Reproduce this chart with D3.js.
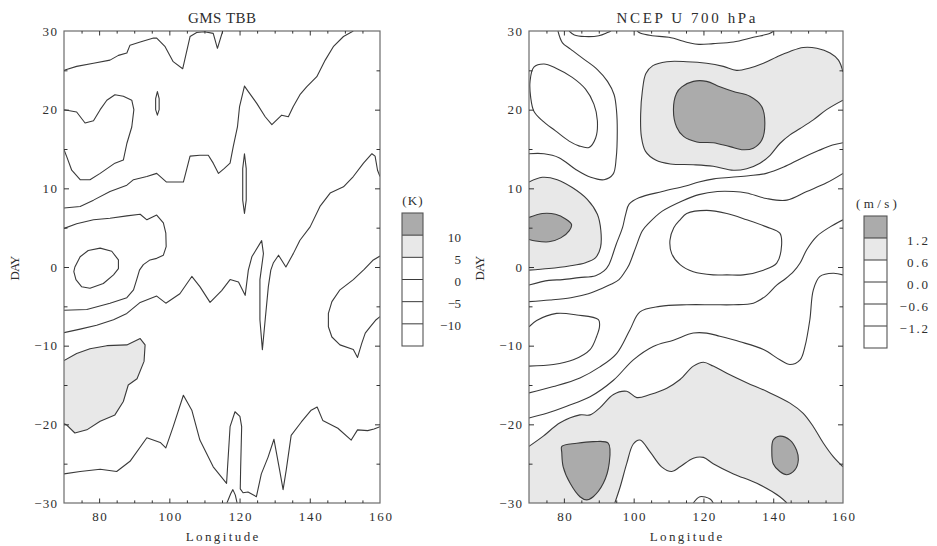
<!DOCTYPE html>
<html>
<head>
<meta charset="utf-8">
<script src="https://cdn.jsdelivr.net/npm/d3@7/dist/d3.min.js"></script>
<style>
  body { margin: 0; background: #fff; }
  svg text { font-family: "Liberation Serif", "DejaVu Serif", serif; fill: #2e2e2e; }
</style>
</head>
<body>
<svg id="chart" width="937" height="546"></svg>
<script>
// ---- axes ----
const lonDomain = [70, 160];
const dayDomain = [-30, 30];
const lonLabels = [80, 100, 120, 140, 160];
const lonMajor = [80, 100, 120, 140];
const lonMinor = [75, 85, 90, 95, 105, 110, 115, 125, 130, 135, 145, 150, 155];
const dayLabels = [-30, -20, -10, 0, 10, 20, 30];
const dayMajor = [-20, -10, 0, 10, 20];
const dayMinor = [-25, -15, -5, 5, 15, 25];

// ---- key (legend) levels ----
const tbbKeyLabels = ["10", "5", "0", "\u22125", "\u221210"];
const uKeyLabels = ["1.2", "0.6", "0.0", "\u22120.6", "\u22121.2"];

// ---- GMS TBB contours, [longitude, day] ----
const tbbA = [[70,25.0],[73.6,25.5],[78.4,25.9],[83.1,26.3],[85.5,26.9],[87.9,27.2],[88.8,28.2],[91.7,28.6],[95.5,29.1],[96.4,29.1],[98.8,28.0],[101.1,26.1],[103.8,25.2],[105.9,29.3],[107.8,29.8],[110,29.9],[112.5,29.7],[113.7,27.8],[115.2,30]];
const tbbB = [[152.4,30],[149.6,29.3],[146.7,28.0],[144.4,26.3],[142.0,24.2],[139.1,22.9],[137.2,21.9],[135.3,20.4],[133.9,19.1],[132.0,19.3],[129.2,18.1],[127.3,19.1],[124.9,20.8],[122.5,22.3],[121.4,23.0],[120.0,20.4],[119.4,17.8],[118.2,15.3],[117.3,13.2],[115.6,12.5],[114.0,11.9],[112.5,13.2],[111.1,14.2],[108.7,14.2],[105.9,14.1],[104.0,10.8],[99.2,10.8],[96.4,11.9],[93.6,11.5],[89.8,11.1],[87.9,10.4],[83.1,9.6],[78.4,8.5],[74.6,7.7],[70,7.5]];
const tbbC = [[70,20.0],[73.6,19.7],[76.0,18.3],[78.4,18.6],[80.3,20.0],[82.2,21.2],[84.5,21.9],[86.9,21.7],[89.3,21.2],[89.9,20.0],[89.3,17.8],[87.9,15.7],[86.9,13.6],[84.5,13.2],[80.3,11.9],[77.4,11.1],[74.6,11.1],[72.2,12.3],[70.8,14.0],[70,14.9]];
const tbbSpot1 = [[96.6,22.3],[97.1,21.4],[97.1,20.0],[96.6,19.3],[96.1,20.0],[96.1,21.4]];
const tbbSpot2 = [[121.4,14.4],[121.9,12.5],[121.9,8.5],[121.4,6.8],[120.9,8.5],[120.9,12.5]];
const tbbD = [[70,4.9],[73.6,5.5],[78.4,6.0],[83.1,6.2],[87.9,6.5],[91.7,6.7],[93.6,6.0],[96.4,6.6],[98.3,5.6],[99.0,4.3],[99.1,2.6],[98.3,1.5],[96.4,1.1],[94.5,0.9],[92.6,0.3],[91.5,-0.4],[90.7,-1.6],[89.8,-2.9],[87.9,-3.9],[83.1,-4.6],[76.5,-5.4],[70,-5.5]];
const tbbOval = [[73.1,0.0],[74.6,1.3],[76.9,2.1],[80.3,2.4],[83.6,2.0],[85.5,0.9],[85.5,-0.2],[84.1,-1.0],[81.2,-2.1],[77.4,-2.7],[75.0,-2.5],[73.4,-1.6],[72.8,-0.6]];
const tbbE = [[70,-8.35],[74.6,-7.9],[79.3,-7.4],[84.1,-6.7],[87.9,-5.9],[91.7,-4.5],[96.4,-3.7],[99.0,-4.6],[103.0,-3.4],[106.4,-1.2],[108.7,-2.5],[111.6,-4.5],[114.9,-3.0],[117.3,-1.6],[119.7,-1.9],[121.6,-3.6],[122.5,-0.4],[123.5,1.3],[126.3,3.35],[126.8,1.7],[125.8,-1.6],[125.8,-6.7],[126.5,-10.5],[127.3,-6.7],[128.2,-2.5],[128.9,-0.4],[129.6,0.5],[131.1,1.5],[133.2,0.0],[135.3,1.7],[137.2,3.4],[140.1,5.1],[142.9,7.7],[145.8,9.4],[149.6,10.2],[152.4,11.5],[155.3,13.2],[157.7,14.4],[158.6,14.1],[159.3,12.3],[160,11.5]];
const tbbF = [[160,1.4],[158.1,0.9],[155.5,-0.3],[152.4,-1.6],[148.6,-2.9],[146.3,-4.4],[145.3,-5.9],[145.3,-7.6],[146.3,-8.9],[148.6,-9.9],[152.4,-10.5],[153.6,-11.5],[154.8,-9.7],[155.8,-8.4],[157.2,-7.6],[158.9,-6.7],[160,-6.3]];
const tbbWarm = [[70,-11.9],[73.6,-11.0],[77.4,-10.4],[82.2,-10.0],[87.9,-9.9],[91.7,-9.1],[93.1,-9.9],[92.8,-12.0],[90.8,-14.2],[88.3,-15.0],[86.9,-17.1],[84.5,-18.8],[80.3,-19.6],[76.5,-20.7],[73.1,-21.1],[70.8,-20.1],[70,-19.9]];
const tbbH = [[70,-26.3],[74.6,-26.0],[80.3,-25.7],[85.0,-26.0],[88.8,-24.7],[93.6,-21.7],[97.4,-22.3],[99.0,-23.0],[101.1,-20.3],[104.0,-16.3],[106.4,-18.2],[108.7,-22.0],[112.5,-25.4],[116.3,-27.5],[117.3,-20.3],[118.7,-18.4],[120.1,-19.0],[120.6,-20.3],[120.3,-25.8],[120.2,-28.2],[121.0,-28.7],[122.4,-28.6],[124.8,-29.2],[126.2,-26.3],[128.1,-24.2],[129.8,-21.9],[131.4,-25.8],[132.4,-28.3],[133.3,-25.8],[134.7,-21.4],[137.6,-19.7],[140.4,-18.2],[142.1,-17.8],[143.7,-19.5],[148.0,-20.5],[151.8,-22.0],[153.6,-20.7],[156.5,-20.8],[158.3,-20.6],[160,-20.3]];
const tbbNotch = [[116.4,-30],[117.5,-28.8],[118.1,-28.3],[118.8,-29.0],[119.3,-30]];

// ---- NCEP U 700 hPa contours, [longitude, day] ----
const uArcNW = [[78.3,30],[79.6,28.5],[81.9,27.7],[85.8,26.4],[89.6,25.1],[92.5,23.6],[94.4,21.9],[95.1,19.8],[95.3,17.3],[95.0,13.9],[94.1,11.8],[91.5,11.1],[87.7,11.4],[83.4,12.4],[78.6,13.9],[74.3,14.4],[70,14.4]];
const uLowNW = [[71.4,25.4],[74.3,25.8],[77.6,25.3],[82.4,24.1],[86.2,22.6],[88.6,20.7],[89.6,18.6],[89.1,16.4],[87.2,15.2],[84.3,15.4],[81.5,16.0],[77.6,17.3],[73.8,18.6],[71.4,19.8],[70.5,21.5],[70.3,23.6]];
const uTopA = [[81.5,30],[83,29.5],[86,29.3],[90,29.4],[92.5,29.8],[93.5,30]];
const uTopB = [[101,30],[102,29.7],[105.3,29.4],[110.1,29.2],[115.9,28.5],[118.7,28.3],[122.8,28.4],[128.6,28.6],[134.3,29.2],[139.1,29.7],[140,30]];
const uHighN = [[160,24.8],[158.7,26.3],[156.3,27.2],[152.5,27.8],[148.6,27.9],[144.8,27.4],[141.0,26.7],[137.2,25.9],[133.3,25.3],[129.5,25.0],[125.7,25.5],[120.9,25.9],[115.2,26.1],[109.5,26.1],[105.5,25.6],[103.5,24.6],[102.5,22.4],[102.0,19.4],[102.2,16.6],[103.4,14.7],[106.3,13.6],[110.5,13.1],[117.1,13.0],[122.8,12.8],[128.6,12.3],[132.4,12.5],[136.2,13.2],[139.1,14.2],[141.9,15.7],[144.8,16.8],[147.7,17.6],[151.5,18.7],[155.3,20.0],[160,21.2]];
const uPeakN = [[112.3,22.1],[113.8,22.9],[117.1,23.6],[120.9,23.6],[124.7,22.9],[128.6,22.3],[133.3,21.7],[136.7,20.4],[137.6,18.3],[136.7,16.1],[134.3,15.1],[131.4,14.9],[127.6,15.3],[122.8,15.8],[118.1,15.9],[114.3,16.6],[112.3,17.8],[111.4,20.0]];
const uHighW = [[70,10.8],[73.8,11.4],[78.1,11.1],[82.4,10.1],[86.7,8.6],[89.6,6.7],[90.6,4.6],[90.5,2.5],[89.1,1.2],[86.2,0.55],[81.5,0.13],[75.7,-0.2],[70,-0.4]];
const uPeakW = [[70,6.3],[73.8,6.8],[77.6,6.7],[80.5,6.1],[82.2,5.4],[81.5,4.6],[79.1,3.7],[75.7,3.2],[71.9,3.3],[70,3.5]];
const uZeroC = [[70,-2.3],[75.7,-1.7],[79.6,-1.6],[84.3,-1.35],[89.1,-1.1],[91.5,-0.5],[92.9,0.3],[95.0,2.9],[96.8,5.0],[97.7,6.7],[98.7,8.0],[101.5,8.8],[108.2,9.6],[114.9,10.3],[118.7,10.8],[123,11.2],[128,11.4],[133,11.6],[138,11.9],[143,12.7],[148,13.8],[153,14.8],[157,15.5],[160,15.8]];
const uNegC = [[70,-4.4],[76,-4.2],[82,-3.9],[87,-3.4],[91,-2.7],[93.5,-2.2],[95.8,-1.6],[97.5,-0.6],[98.7,0.3],[100.6,2.5],[102.5,4.6],[104.4,5.6],[108.2,7.1],[113.9,8.4],[118.7,9.2],[124,9.6],[128.6,9.6],[132.4,9.4],[138.1,8.7],[143.9,8.5],[149.6,9.6],[155.3,10.7],[160,11.9]];
const uNegS = [[160,6.0],[156.3,5.1],[152.5,3.9],[149.6,2.2],[147.7,0.5],[145.8,-0.6],[143.5,-1.5],[141.0,-2.3],[138.1,-3.6],[134.3,-4.6],[128.6,-4.8],[122.8,-4.8],[115.2,-4.8],[107.5,-5.0],[101.8,-5.7],[98.9,-8.0],[95.1,-11.0],[90.3,-12.7],[84.6,-14.1],[77.0,-15.2],[70,-16.0]];
const uLowC = [[113.3,6.0],[115.2,6.8],[120.9,7.2],[126.7,6.8],[132.4,6.0],[138.1,5.1],[141.9,4.3],[142.4,2.8],[141.0,0.5],[137.2,-0.4],[131.4,-1.0],[126.7,-1.0],[122.8,-1.0],[117.1,-0.6],[113.3,0.3],[110.9,1.7],[110.4,3.4],[111.5,5.0]];
const uLowW = [[70,-7.6],[72.2,-6.8],[77.9,-5.9],[83.7,-6.1],[89.9,-6.7],[90.2,-7.6],[89.4,-8.8],[87.5,-10.5],[82.7,-11.8],[77.0,-12.4],[70,-12.6]];
const uZeroS = [[70,-19.2],[75.1,-18.6],[80.8,-17.7],[87.5,-16.5],[94.2,-14.4],[99.9,-11.8],[105.6,-10.1],[111.4,-9.3],[117.1,-8.4],[120.9,-8.4],[124.7,-8.8],[130.5,-9.5],[137.2,-10.5],[141.9,-11.8],[144.8,-12.4],[147.7,-11.8],[149.1,-10.1],[150.5,-6.7],[151.5,-2.9],[153.4,-1.2],[157.2,-0.8],[160,-1.0]];
const uHighS = [[70,-22.8],[74.1,-21.5],[78.9,-19.8],[84.6,-18.8],[87.5,-18.8],[90.3,-17.9],[94.2,-16.2],[98.0,-15.8],[100.9,-16.6],[104.7,-16.2],[109.5,-15.4],[113.3,-14.3],[117.1,-12.6],[120.0,-12.1],[122.8,-12.6],[126.7,-13.5],[132.4,-14.7],[138.1,-15.8],[144.8,-17.3],[148.6,-18.6],[151.5,-20.3],[154.4,-22.4],[157.2,-24.1],[160,-25.4]];
const uGapS = [[94.6,-30],[96.1,-28.0],[98.0,-25.0],[99.9,-22.5],[101.8,-22.0],[104.7,-23.5],[108.0,-25.4],[110.9,-26.0],[113.3,-25.4],[117.1,-24.3],[120.0,-24.2],[122.8,-25.0],[128.6,-26.3],[135.3,-27.5],[141.9,-29.2],[143.9,-30]];
const uPeakSW = [[79.4,-22.8],[83.7,-22.4],[88.4,-22.2],[92.7,-22.4],[93.0,-24.9],[91.3,-27.5],[88.4,-29.2],[86.5,-29.6],[84.6,-29.2],[81.8,-27.5],[79.8,-25.4],[79.4,-23.6]];
const uPeakSE = [[140.0,-22.0],[141.9,-21.5],[144.8,-22.0],[146.7,-23.3],[147.2,-24.5],[146.2,-25.8],[143.9,-26.4],[141.9,-26.0],[140.0,-25.0],[139.6,-23.5]];
const uBump = [[117.1,-30],[119.0,-29.2],[121.9,-29.5],[122.8,-30]];

// ---- styling ----
const LIGHT = "#e8e8e8";
const DARK = "#ababab";
const LINE = "#3a3a3a";

const svg = d3.select("#chart");
const defs = svg.append("defs");

function spaced(sel, adv) {
  sel.each(function () {
    const n = this.textContent.length;
    if (n > 1) d3.select(this).attr("textLength", n * adv - 0.25 * adv).attr("lengthAdjust", "spacing");
  });
}

function drawPanel(box, title, opts) {
  const x = d3.scaleLinear().domain(lonDomain).range([box.x0, box.x1]);
  const y = d3.scaleLinear().domain(dayDomain).range([box.y1, box.y0]);
  const g = svg.append("g");
  const clipId = "clip" + box.x0;
  defs.append("clipPath").attr("id", clipId).append("rect")
    .attr("x", box.x0).attr("y", box.y0).attr("width", box.x1 - box.x0).attr("height", box.y1 - box.y0);

  const curveOpen = opts.smooth ? d3.curveCatmullRom.alpha(0.5) : d3.curveLinear;
  const curveClosed = opts.smooth ? d3.curveCatmullRomClosed.alpha(0.5) : d3.curveLinearClosed;
  const open = d3.line().x(d => x(d[0])).y(d => y(d[1])).curve(curveOpen);
  const closed = d3.line().x(d => x(d[0])).y(d => y(d[1])).curve(curveClosed);
  const cont = pts => open(pts).replace(/^M/, "L");

  const body = g.append("g").attr("clip-path", `url(#${clipId})`);
  // shaded areas
  opts.fills(body, { x, y, open, closed, cont });
  // contour lines
  body.selectAll("path.open").data(opts.openLines).join("path")
    .attr("class", "open").attr("d", open)
    .attr("fill", "none").attr("stroke", LINE).attr("stroke-width", 1.1).attr("stroke-linejoin", "round");
  body.selectAll("path.loop").data(opts.loops).join("path")
    .attr("class", "loop").attr("d", closed)
    .attr("fill", "none").attr("stroke", LINE).attr("stroke-width", 1.1).attr("stroke-linejoin", "round");

  // frame
  g.append("rect").attr("x", box.x0).attr("y", box.y0)
    .attr("width", box.x1 - box.x0).attr("height", box.y1 - box.y0)
    .attr("fill", "none").attr("stroke", "#6c6c6c").attr("stroke-width", 1.2);

  // inward ticks on all four sides
  const tickSets = [
    [d3.axisBottom(x), lonMajor, 4.5, `translate(0,${box.y1})`],
    [d3.axisBottom(x), lonMinor, 2.6, `translate(0,${box.y1})`],
    [d3.axisTop(x), lonMajor, 4.5, `translate(0,${box.y0})`],
    [d3.axisTop(x), lonMinor, 2.6, `translate(0,${box.y0})`],
    [d3.axisLeft(y), dayMajor, 5, `translate(${box.x0},0)`],
    [d3.axisLeft(y), dayMinor, 3.5, `translate(${box.x0},0)`],
    [d3.axisRight(y), dayMajor, 5, `translate(${box.x1},0)`],
    [d3.axisRight(y), dayMinor, 3.5, `translate(${box.x1},0)`]
  ];
  tickSets.forEach(([ax, vals, len, tr]) => {
    const a = g.append("g").attr("transform", tr)
      .call(ax.tickValues(vals).tickSize(-len).tickFormat(""));
    a.select(".domain").remove();
    a.selectAll("line").attr("stroke", "#333").attr("stroke-width", 1);
  });

  // tick labels
  const fmt = d => (d < 0 ? "\u2212" + Math.abs(d) : String(d));
  const xl = g.append("g").attr("transform", `translate(0,${box.y1})`)
    .call(d3.axisBottom(x).tickValues(lonLabels).tickSize(0).tickPadding(9).tickFormat(fmt));
  xl.select(".domain").remove();
  xl.selectAll("text").attr("font-size", 13).attr("fill", "#2e2e2e").style("font-family", null).call(spaced, 8.3);
  const yl = g.append("g").attr("transform", `translate(${box.x0},0)`)
    .call(d3.axisLeft(y).tickValues(dayLabels).tickSize(0).tickPadding(7).tickFormat(fmt));
  yl.select(".domain").remove();
  yl.selectAll("text").attr("font-size", 13).attr("fill", "#2e2e2e").style("font-family", null).call(spaced, 8.3);

  // titles
  const cx = (box.x0 + box.x1) / 2;
  g.append("text").attr("x", cx).attr("y", 23).attr("text-anchor", "middle")
    .attr("font-size", 15).text(title).call(spaced, 10.1);
  g.append("text").attr("x", cx).attr("y", 541).attr("text-anchor", "middle")
    .attr("font-size", 13).text("Longitude").call(spaced, 8.3);
  g.append("text").attr("transform", `translate(${box.x0 - 50},268) rotate(-90)`)
    .attr("text-anchor", "middle").attr("dy", "0.35em")
    .attr("font-size", 13).text("DAY").call(spaced, 9);
}

function drawKey(k, unit, labels) {
  const g = svg.append("g");
  const h = k.h / 6;
  const shades = [DARK, LIGHT, "#fff", "#fff", "#fff", "#fff"];
  g.selectAll("rect.cell").data(shades).join("rect").attr("class", "cell")
    .attr("x", k.x).attr("y", (d, i) => k.y + i * h).attr("width", k.w).attr("height", h)
    .attr("fill", d => d);
  g.selectAll("line.sep").data(labels).join("line").attr("class", "sep")
    .attr("x1", k.x).attr("x2", k.x + k.w)
    .attr("y1", (d, i) => k.y + (i + 1) * h).attr("y2", (d, i) => k.y + (i + 1) * h)
    .attr("stroke", "#3a3a3a").attr("stroke-width", 1);
  g.append("rect").attr("x", k.x).attr("y", k.y).attr("width", k.w).attr("height", k.h)
    .attr("fill", "none").attr("stroke", "#555").attr("stroke-width", 1.1);
  g.selectAll("text.lab").data(labels).join("text").attr("class", "lab")
    .attr("x", k.lx).attr("y", (d, i) => k.y + (i + 1) * h + 2)
    .attr("dy", "0.35em").attr("text-anchor", "end").attr("font-size", 13)
    .text(d => d).call(spaced, 7.6);
  g.append("text").attr("x", k.x + k.w / 2 + (unit.length > 3 ? 1 : 0)).attr("y", k.y - 13)
    .attr("dy", "0.35em").attr("text-anchor", "middle").attr("font-size", 13)
    .text(unit).call(spaced, unit.length > 3 ? 8.6 : 7.4);
}

// left panel: GMS TBB
drawPanel({ x0: 64, x1: 380, y0: 31, y1: 503 }, "GMS TBB", {
  smooth: false,
  fills: (b, s) => {
    b.append("path").attr("d", s.open(tbbWarm) + "Z").attr("fill", LIGHT);
  },
  openLines: [tbbA, tbbB, tbbC, tbbD, tbbE, tbbF, tbbWarm, tbbH, tbbNotch],
  loops: [tbbSpot1, tbbSpot2, tbbOval]
});

// right panel: NCEP U 700 hPa
drawPanel({ x0: 529, x1: 843, y0: 31, y1: 503 }, "NCEP U 700 hPa", {
  smooth: true,
  fills: (b, s) => {
    b.append("path").attr("d", s.open(uHighN) + "Z").attr("fill", LIGHT);
    b.append("path").attr("d", s.open(uHighW) + "Z").attr("fill", LIGHT);
    const south = s.open(uHighS) + `L${s.x(160)},${s.y(-30)}` +
      s.cont(uGapS.slice().reverse()) + `L${s.x(70)},${s.y(-30)}Z`;
    b.append("path").attr("d", south).attr("fill", LIGHT);
    b.append("path").attr("d", s.closed(uPeakN)).attr("fill", DARK);
    b.append("path").attr("d", s.open(uPeakW) + "Z").attr("fill", DARK);
    b.append("path").attr("d", s.closed(uPeakSW)).attr("fill", DARK);
    b.append("path").attr("d", s.closed(uPeakSE)).attr("fill", DARK);
  },
  openLines: [uArcNW, uTopA, uTopB, uHighN, uHighW, uPeakW, uZeroC, uNegC, uNegS, uLowW, uZeroS, uHighS, uGapS, uBump],
  loops: [uLowNW, uPeakN, uLowC, uPeakSW, uPeakSE]
});

drawKey({ x: 402, y: 213, w: 21, h: 133, lx: 461 }, "(K)", tbbKeyLabels);
drawKey({ x: 864, y: 216, w: 23, h: 132, lx: 928 }, "(m/s)", uKeyLabels);
</script>
</body>
</html>
